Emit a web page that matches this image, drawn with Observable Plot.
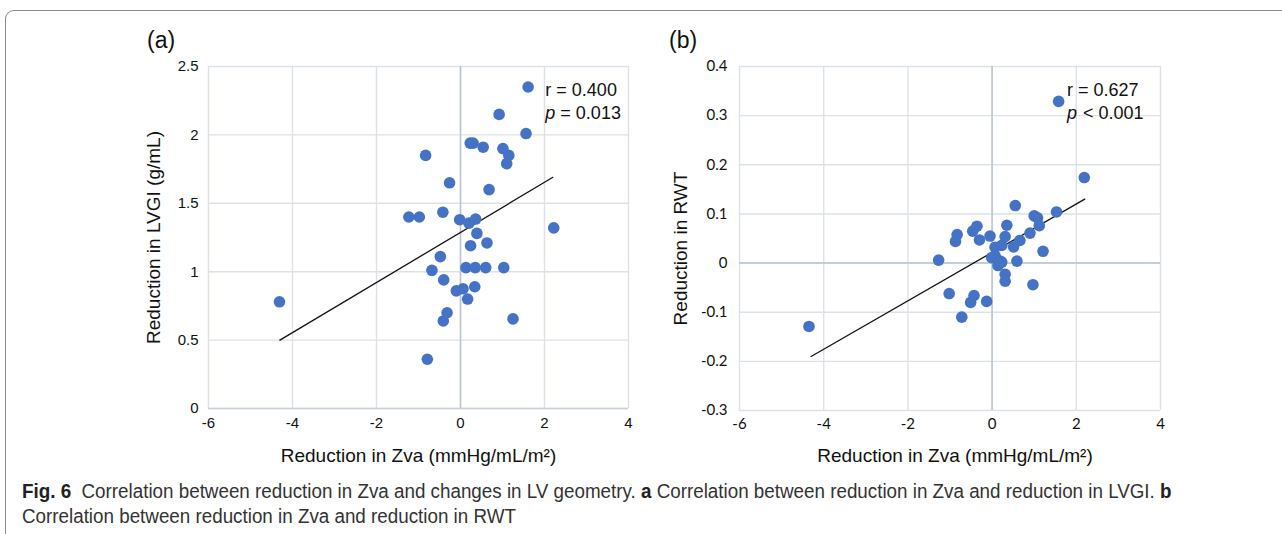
<!DOCTYPE html>
<html><head><meta charset="utf-8">
<script src="https://cdn.jsdelivr.net/npm/d3@7"></script>
<script src="https://cdn.jsdelivr.net/npm/@observablehq/plot@0.6"></script>
<style>
html,body{margin:0;padding:0;background:#fff;}
#wrap{position:relative;width:1282px;height:534px;overflow:hidden;background:#fff;}
#frame{position:absolute;left:5px;top:10px;width:1400px;height:700px;border-top:1px solid #8a8a8a;border-left:1px solid #8a8a8a;border-top-left-radius:9px;}
.panel{position:absolute;top:0;}
#pa{left:0px;}
#pb{left:640px;}
.lab{position:absolute;top:27px;font-family:"Liberation Sans",Arial,sans-serif;font-size:23px;color:#111;}
#caption{position:absolute;left:22px;top:479px;font-family:"Liberation Sans",Arial,sans-serif;font-size:20px;color:#333;line-height:25px;white-space:nowrap;transform:scaleX(0.94);transform-origin:0 0;}
#caption b{color:#222;}
</style></head>
<body>
<div id="wrap">
  <div id="frame"></div>
  <div class="panel" id="pa"></div>
  <div class="panel" id="pb"></div>
  <div class="lab" style="left:147px">(a)</div>
  <div class="lab" style="left:669px">(b)</div>
  <div id="caption"><b>Fig. 6</b>&nbsp; Correlation between reduction in Zva and changes in LV geometry. <b>a</b> Correlation between reduction in Zva and reduction in LVGI. <b>b</b><br>Correlation between reduction in Zva and reduction in RWT</div>
</div>
<script>
// ---- Data: panel (a) Reduction in Zva vs Reduction in LVGI ----
const zvaA = [-4.31,-1.23,-0.98,-0.83,-0.79,-0.68,-0.48,-0.42,-0.40,-0.41,-0.32,-0.26,-0.10,-0.02,0.06,0.13,0.17,0.20,0.23,0.30,0.24,0.35,0.34,0.36,0.39,0.54,0.60,0.63,0.68,0.92,1.01,1.03,1.10,1.15,1.25,1.56,1.61,2.22];
const lvgiA = [0.78,1.40,1.40,1.85,0.36,1.01,1.11,1.435,0.94,0.64,0.70,1.65,0.86,1.38,0.875,1.03,0.80,1.355,1.94,1.94,1.19,1.03,0.89,1.385,1.28,1.91,1.03,1.21,1.60,2.15,1.90,1.03,1.79,1.85,0.655,2.01,2.35,1.32];
const fitAx = [-4.3, 2.2];
const fitAy = [0.50, 1.69];

// ---- Data: panel (b) Reduction in Zva vs Reduction in RWT ----
const zvaB = [-4.35,-1.27,-1.02,-0.87,-0.83,-0.72,-0.51,-0.46,-0.43,-0.36,-0.30,-0.13,-0.05,-0.01,0.07,0.07,0.14,0.19,0.23,0.23,0.31,0.31,0.31,0.35,0.51,0.55,0.59,0.66,0.90,0.97,1.00,1.08,1.12,1.21,1.53,1.58,2.19];
const rwtB = [-0.129,0.006,-0.062,0.044,0.058,-0.110,-0.080,0.065,-0.066,0.075,0.047,-0.078,0.055,0.011,0.032,0.015,-0.005,0.004,0.036,0.002,0.054,-0.023,-0.037,0.077,0.033,0.117,0.004,0.046,0.061,-0.044,0.096,0.092,0.076,0.024,0.104,0.329,0.174];
const fitBx = [-4.3, 2.2];
const fitBy = [-0.19, 0.13];

// ---- Ticks ----
const xTicks = [-6,-4,-2,0,2,4];
const yTicksA = [0,0.5,1,1.5,2,2.5];
const yTicksB = [-0.3,-0.2,-0.1,0,0.1,0.2,0.3,0.4];

const xTitle = "Reduction in Zva (mmHg/mL/m\u00B2)";
const yTitleA = "Reduction in LVGI (g/mL)";
const yTitleB = "Reduction in RWT";

const ptsA = zvaA.map((x,i)=>({x, y:lvgiA[i]}));
const ptsB = zvaB.map((x,i)=>({x, y:rwtB[i]}));
const fitA = fitAx.map((x,i)=>({x, y:fitAy[i]}));
const fitB = fitBx.map((x,i)=>({x, y:fitBy[i]}));

const gridC = "#dde2ea", zeroC = "#b9c3d3", dotC = "#4472c4";
const fmt = d => String(d);
const arial = "'Liberation Sans', Arial, sans-serif";

const plotA = Plot.plot({
  width: 640, height: 470,
  marginLeft: 208, marginRight: 12, marginTop: 66, marginBottom: 62,
  style: {fontFamily: arial, fontSize: "15px", color: "#111", background: "transparent", overflow: "visible"},
  x: {domain: [-6, 4], ticks: xTicks, tickFormat: fmt, tickSize: 0, tickPadding: 9, label: null},
  y: {domain: [0, 2.5], ticks: yTicksA, tickFormat: fmt, tickSize: 0, tickPadding: 10, label: null},
  marks: [
    Plot.gridX(xTicks, {stroke: gridC, strokeOpacity: 1, strokeWidth: 1.4}),
    Plot.gridY(yTicksA, {stroke: gridC, strokeOpacity: 1, strokeWidth: 1.4}),
    Plot.ruleX([0], {stroke: zeroC, strokeWidth: 1.5}),
    Plot.ruleY([0], {stroke: "#c8cfdb", strokeWidth: 1.5}),
    Plot.line(fitA, {x: "x", y: "y", stroke: "#111", strokeWidth: 1.3}),
    Plot.dot(ptsA, {x: "x", y: "y", r: 5.8, fill: dotC}),
    Plot.text(["r = 0.400"], {x: 2.02, y: 2.325, textAnchor: "start", fontSize: 18, fill: "#111"}),
    Plot.text(["p"], {x: 2.02, y: 2.156, textAnchor: "start", fontSize: 18, fontStyle: "italic", fill: "#111"}),
    Plot.text(["= 0.013"], {x: 2.02, y: 2.156, dx: 15, textAnchor: "start", fontSize: 18, fill: "#111"}),
    Plot.text([yTitleA], {frameAnchor: "left", dx: -55, rotate: -90, textAnchor: "middle", lineAnchor: "middle", fontSize: 19, fill: "#111"}),
    Plot.text([xTitle], {frameAnchor: "bottom", dy: 47, textAnchor: "middle", lineAnchor: "middle", fontSize: 19, fill: "#111"})
  ]
});
document.getElementById("pa").appendChild(plotA);

const plotB = Plot.plot({
  width: 642, height: 470,
  marginLeft: 99, marginRight: 122, marginTop: 66, marginBottom: 60,
  style: {fontFamily: "Lato, 'Open Sans', sans-serif", fontSize: "15px", color: "#111", background: "transparent", overflow: "visible"},
  x: {domain: [-6, 4], ticks: xTicks, tickFormat: fmt, tickSize: 0, tickPadding: 8, label: null},
  y: {domain: [-0.3, 0.4], ticks: yTicksB, tickFormat: fmt, tickSize: 0, tickPadding: 12, label: null},
  marks: [
    Plot.gridX(xTicks, {stroke: gridC, strokeOpacity: 1, strokeWidth: 1.4}),
    Plot.gridY(yTicksB, {stroke: gridC, strokeOpacity: 1, strokeWidth: 1.4}),
    Plot.ruleX([0], {stroke: zeroC, strokeWidth: 1.5}),
    Plot.ruleY([0], {stroke: zeroC, strokeWidth: 1.5}),
    Plot.line(fitB, {x: "x", y: "y", stroke: "#111", strokeWidth: 1.3}),
    Plot.dot(ptsB, {x: "x", y: "y", r: 5.8, fill: dotC}),
    Plot.text(["r = 0.627"], {x: 1.78, y: 0.3515, textAnchor: "start", fontSize: 18, fill: "#111", fontFamily: arial}),
    Plot.text(["p"], {x: 1.78, y: 0.3047, textAnchor: "start", fontSize: 18, fontStyle: "italic", fill: "#111", fontFamily: arial}),
    Plot.text(["< 0.001"], {x: 1.78, y: 0.3047, dx: 16, textAnchor: "start", fontSize: 18, fill: "#111", fontFamily: arial}),
    Plot.text([yTitleB], {frameAnchor: "left", dx: -59, dy: 10, rotate: -90, textAnchor: "middle", lineAnchor: "middle", fontSize: 19, fill: "#111", fontFamily: arial}),
    Plot.text([xTitle], {frameAnchor: "bottom", dy: 45, dx: 5, textAnchor: "middle", lineAnchor: "middle", fontSize: 19, fill: "#111", fontFamily: arial})
  ]
});
document.getElementById("pb").appendChild(plotB);
</script>
</body></html>
